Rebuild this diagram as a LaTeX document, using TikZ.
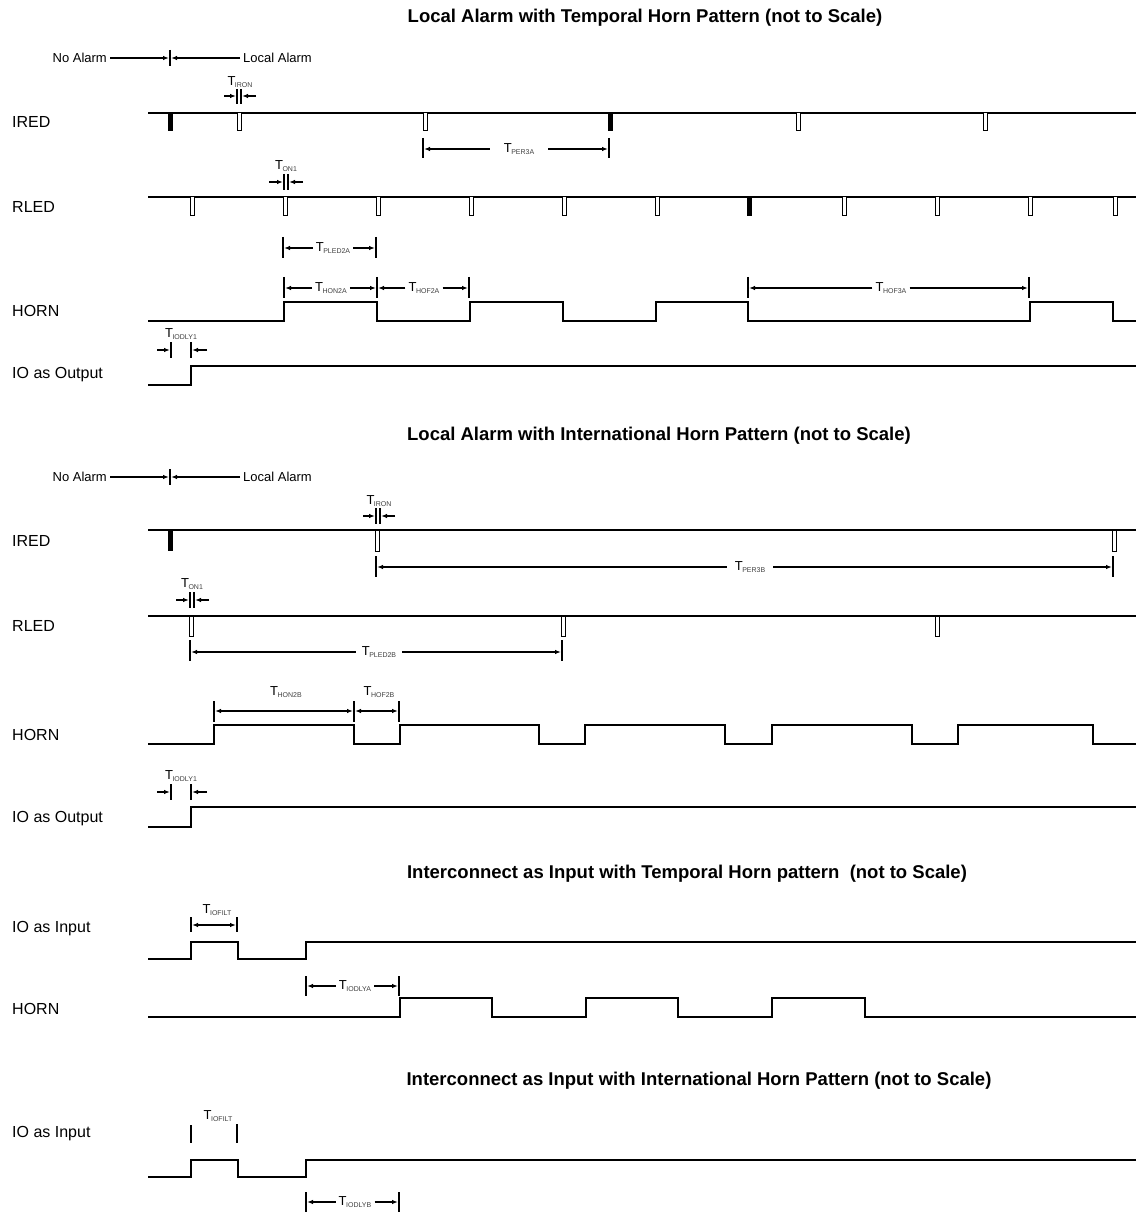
\documentclass[tikz,border=0pt]{standalone}
\usepackage{fontspec}
\setmainfont{Liberation Sans}
\usetikzlibrary{arrows.meta,positioning}
\newcommand{\tsub}[1]{T\kern-0.5pt\raisebox{-0.3ex}{\fontsize{7}{7}\selectfont\color{black!75}#1}}

\begin{document}
\begin{tikzpicture}[x=1pt,y=-1pt,
  sig/.style={line width=1.4pt,line join=miter},
  sigb/.style={line width=2.2pt,line join=miter},
  tick/.style={line width=1.6pt},
  dim/.style={-{Latex[length=6pt,width=4.5pt]},line width=1.3pt},
  dimb/.style={{Latex[length=6pt,width=4.5pt]}-{Latex[length=6pt,width=4.5pt]},line width=1.3pt},
  opn/.style={line width=1pt,fill=white},
  lbl/.style={anchor=west,font=\fontsize{16}{16}\selectfont,inner sep=0},
  ttl/.style={font=\bfseries\fontsize{18.5}{19}\selectfont,inner sep=0},
  tl/.style={font=\fontsize{13}{13}\selectfont,inner ysep=1pt,inner xsep=6pt},
  note/.style={font=\fontsize{13}{13}\selectfont,inner ysep=0,inner xsep=3pt}]
  \useasboundingbox (0,0) rectangle (1136,1214);

  % local alarm, temporal horn
  \node[ttl] (ttl1) at (645,18) {Local Alarm with Temporal Horn Pattern (not to Scale)};
  \node[note,anchor=east] (na1) at (110,58) {No Alarm};
  \node[note,anchor=west] (la1) at (240,58) {Local Alarm};
  \draw[tick] (170,50) -- (170,66);
  \draw[dim] (na1) -- (169,58);
  \draw[dim] (la1) -- (171,58);

  \node[lbl] (ired1) at (12,122) {IRED};
  \node[lbl] (rled1) at (12,207) {RLED};
  \node[lbl] (horn1) at (12,311) {HORN};
  \node[lbl] (out1) at (12,375) {IO as Output};

  \node[tl] (iron1) at (240,82) {\tsub{IRON}};
  \draw[tick] (237,89) -- (237,104) (241,89) -- (241,104);
  \draw[dim] (224,96) -- (236,96);
  \draw[dim] (256,96) -- (242,96);
  \draw[sig] (148,113) -- (1136,113);
  \foreach \x in {239,425,798,985}
    \draw[opn] (\x-2,113) rectangle (\x+2,131);
  \foreach \x in {170,610}
    \fill (\x-2.5,113) rectangle (\x+2.5,131);
  \node[tl,inner xsep=14pt] (per3a) at (519,149) {\tsub{PER3A}};
  \draw[tick] (423,138) -- (423,158) (609,138) -- (609,158);
  \draw[dim] (per3a) -- (424,149);
  \draw[dim] (per3a) -- (608,149);

  \node[tl] (on1a) at (286,166) {\tsub{ON1}};
  \draw[tick] (284,174) -- (284,190) (288,174) -- (288,190);
  \draw[dim] (269,182) -- (283,182);
  \draw[dim] (303,182) -- (289,182);
  \draw[sig] (148,197) -- (1136,197);
  \foreach \x in {192,285,378,471,564,657,844,937,1030,1115}
    \draw[opn] (\x-2,197) rectangle (\x+2,216);
  \fill (749-2.5,197) rectangle (749+2.5,216);
  \node[tl,inner xsep=3pt] (pled2a) at (333,248) {\tsub{PLED2A}};
  \draw[tick] (283,237) -- (283,258) (376,237) -- (376,258);
  \draw[dim] (pled2a) -- (284,248);
  \draw[dim] (pled2a) -- (375,248);

  \node[tl,inner xsep=3pt] (hon2a) at (331,288) {\tsub{HON2A}};
  \node[tl,inner xsep=3pt] (hof2a) at (424,288) {\tsub{HOF2A}};
  \node[tl,inner xsep=3pt] (hof3a) at (891,288) {\tsub{HOF3A}};
  \draw[tick] (284,277) -- (284,298) (377,277) -- (377,298) (469,277) -- (469,298)
    (748,277) -- (748,298) (1029,277) -- (1029,298);
  \draw[dim] (hon2a) -- (285,288);
  \draw[dim] (hon2a) -- (376,288);
  \draw[dim] (hof2a) -- (378,288);
  \draw[dim] (hof2a) -- (468,288);
  \draw[dim] (hof3a) -- (749,288);
  \draw[dim] (hof3a) -- (1028,288);
  \draw[sig] (148,321) -- (284,321) -- (284,302) -- (377,302) -- (377,321) -- (470,321)
    -- (470,302) -- (563,302) -- (563,321) -- (656,321) -- (656,302) -- (748,302)
    -- (748,321) -- (1030,321) -- (1030,302) -- (1113,302) -- (1113,321) -- (1136,321);

  \node[tl] (iodly1a) at (181,334) {\tsub{IODLY1}};
  \draw[tick] (171,342) -- (171,358) (191,342) -- (191,358);
  \draw[dim] (157,350) -- (170,350);
  \draw[dim] (207,350) -- (192,350);
  \draw[sig] (148,385) -- (191,385) -- (191,366) -- (1136,366);

  % local alarm, international horn
  \node[ttl] (ttl2) at (659,436) {Local Alarm with International Horn Pattern (not to Scale)};
  \node[note,anchor=east] (na2) at (110,477) {No Alarm};
  \node[note,anchor=west] (la2) at (240,477) {Local Alarm};
  \draw[tick] (170,469) -- (170,485);
  \draw[dim] (na2) -- (169,477);
  \draw[dim] (la2) -- (171,477);

  \node[lbl] (ired2) at (12,541) {IRED};
  \node[lbl] (rled2) at (12,626) {RLED};
  \node[lbl] (horn2) at (12,735) {HORN};
  \node[lbl] (out2) at (12,819) {IO as Output};

  \node[tl] (iron2) at (379,501) {\tsub{IRON}};
  \draw[tick] (376,508) -- (376,524) (380,508) -- (380,524);
  \draw[dim] (363,516) -- (375,516);
  \draw[dim] (395,516) -- (381,516);
  \draw[sigb] (148,530) -- (1136,530);
  \fill (170-2.5,530) rectangle (170+2.5,551);
  \foreach \x in {377,1114}
    \draw[opn] (\x-2,530) rectangle (\x+2,551);
  \node[tl,inner xsep=8pt] (per3b) at (750,567) {\tsub{PER3B}};
  \draw[tick] (376,556) -- (376,577) (1113,556) -- (1113,577);
  \draw[dim] (per3b) -- (377,567);
  \draw[dim] (per3b) -- (1112,567);

  \node[tl] (on1b) at (192,584) {\tsub{ON1}};
  \draw[tick] (190,592) -- (190,608) (194,592) -- (194,608);
  \draw[dim] (176,600) -- (189,600);
  \draw[dim] (209,600) -- (195,600);
  \draw[sigb] (148,616) -- (1136,616);
  \foreach \x in {191,563,937}
    \draw[opn] (\x-2,616) rectangle (\x+2,636);
  \node[tl,inner xsep=6pt] (pled2b) at (379,652) {\tsub{PLED2B}};
  \draw[tick] (190,640) -- (190,661) (562,640) -- (562,661);
  \draw[dim] (pled2b) -- (191,652);
  \draw[dim] (pled2b) -- (561,652);

  \node[tl] (hon2b) at (286,692) {\tsub{HON2B}};
  \node[tl] (hof2b) at (379,692) {\tsub{HOF2B}};
  \draw[tick] (214,701) -- (214,722) (354,701) -- (354,722) (399,701) -- (399,722);
  \draw[dimb] (215,711) -- (353,711);
  \draw[dimb] (355,711) -- (398,711);
  \draw[sigb] (148,744) -- (214,744) -- (214,725) -- (354,725) -- (354,744) -- (400,744)
    -- (400,725) -- (539,725) -- (539,744) -- (585,744) -- (585,725) -- (725,725)
    -- (725,744) -- (772,744) -- (772,725) -- (912,725) -- (912,744) -- (958,744)
    -- (958,725) -- (1093,725) -- (1093,744) -- (1136,744);

  \node[tl] (iodly1b) at (181,776) {\tsub{IODLY1}};
  \draw[tick] (171,784) -- (171,800) (191,784) -- (191,800);
  \draw[dim] (157,792) -- (170,792);
  \draw[dim] (207,792) -- (192,792);
  \draw[sigb] (148,827) -- (191,827) -- (191,807) -- (1136,807);

  % interconnect, temporal horn
  \node[ttl] (ttl3) at (687,874) {Interconnect as Input with Temporal Horn pattern\ \ (not to Scale)};
  \node[lbl] (in3) at (12,929) {IO as Input};
  \node[lbl] (horn3) at (12,1009) {HORN};

  \node[tl] (iofilt3) at (217,910) {\tsub{IOFILT}};
  \draw[tick] (191,917) -- (191,932) (237,917) -- (237,932);
  \draw[dimb] (192,925) -- (236,925);
  \draw[sigb] (148,959) -- (191,959) -- (191,942) -- (238,942) -- (238,959) -- (306,959)
    -- (306,942) -- (1136,942);
  \node[tl,inner xsep=3pt] (iodlya) at (355,986) {\tsub{IODLYA}};
  \draw[tick] (306,976) -- (306,996) (399,976) -- (399,996);
  \draw[dim] (iodlya) -- (307,986);
  \draw[dim] (iodlya) -- (398,986);
  \draw[sigb] (148,1017) -- (400,1017) -- (400,998) -- (492,998) -- (492,1017) -- (586,1017)
    -- (586,998) -- (678,998) -- (678,1017) -- (772,1017) -- (772,998) -- (865,998)
    -- (865,1017) -- (1136,1017);

  % interconnect, international horn
  \node[ttl] (ttl4) at (699,1081) {Interconnect as Input with International Horn Pattern (not to Scale)};
  \node[lbl] (in4) at (12,1134) {IO as Input};

  \node[tl] (iofilt4) at (218,1116) {\tsub{IOFILT}};
  \draw[tick] (191,1125) -- (191,1143) (237,1124) -- (237,1143);
  \draw[sigb] (148,1177) -- (191,1177) -- (191,1160) -- (238,1160) -- (238,1177) -- (306,1177)
    -- (306,1160) -- (1136,1160);
  \node[tl,inner xsep=3pt] (iodlyb) at (355,1202) {\tsub{IODLYB}};
  \draw[tick] (306,1192) -- (306,1212) (399,1192) -- (399,1212);
  \draw[dim] (iodlyb) -- (307,1202);
  \draw[dim] (iodlyb) -- (398,1202);
\end{tikzpicture}
\end{document}
